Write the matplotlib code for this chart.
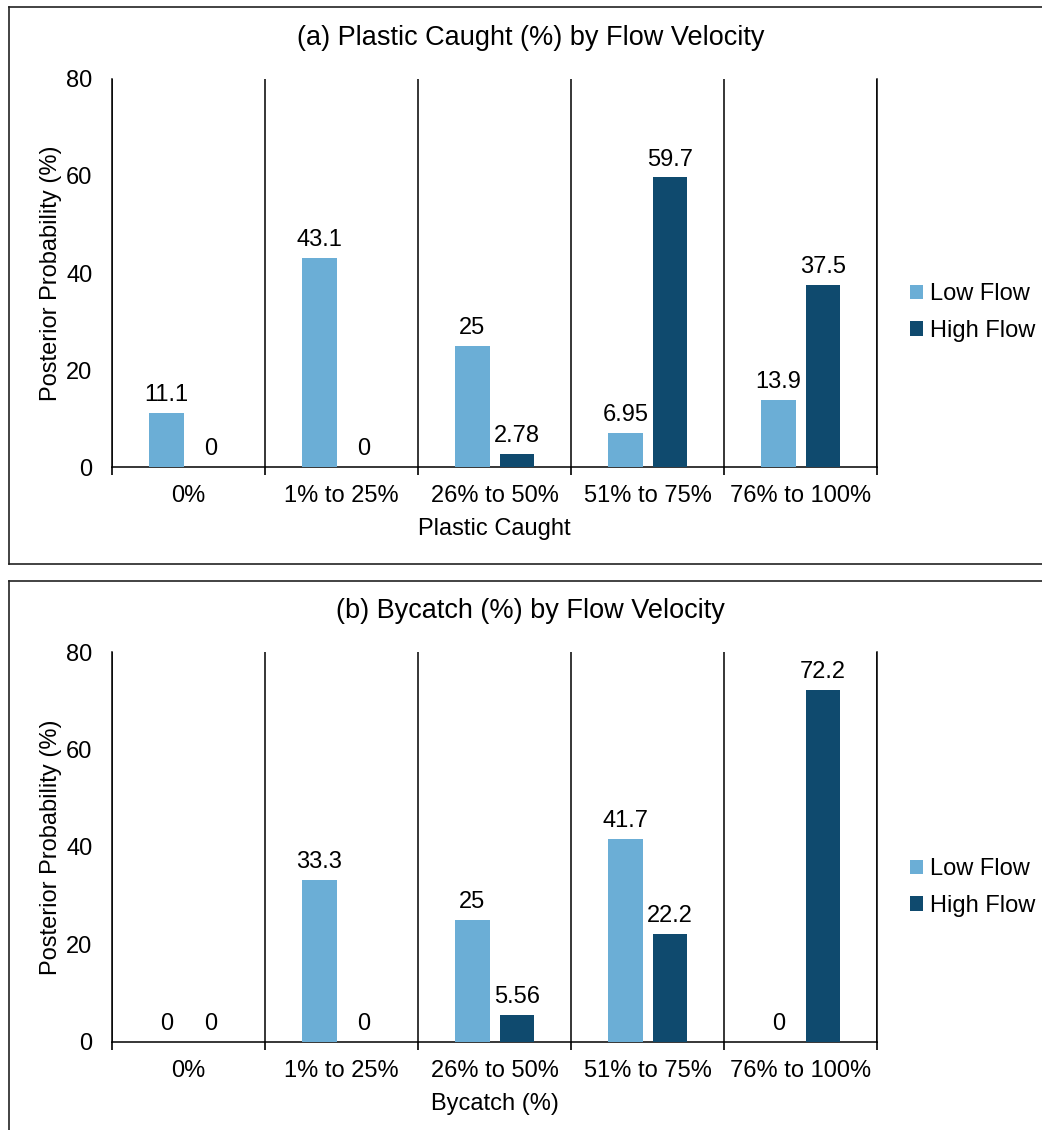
import matplotlib.pyplot as plt
import numpy as np
from matplotlib.lines import Line2D

plt.rcParams['font.family'] = ['Liberation Sans', 'DejaVu Sans']

# Categories and posterior probabilities (%)
categories = ['0%', '1% to 25%', '26% to 50%', '51% to 75%', '76% to 100%']
plastic_low = [11.1, 43.1, 25, 6.95, 13.9]
plastic_high = [0, 0, 2.78, 59.7, 37.5]
bycatch_low = [0, 33.3, 25, 41.7, 0]
bycatch_high = [0, 0, 5.56, 22.2, 72.2]

low_color = '#6BAED6'
high_color = '#0F4A6E'

fig = plt.figure(figsize=(10.42, 11.30), dpi=100)

ax_a = fig.add_axes([0.1075, 0.5867, 0.7342, 0.3434])
ax_b = fig.add_axes([0.1075, 0.0779, 0.7342, 0.3451])


def draw_panel(ax, low, high, title, xlabel, title_y, legend_y):
    x = np.arange(len(categories))
    off, w = 0.145, 0.225
    b1 = ax.bar(x - off, low, w, color=low_color, label='Low Flow', zorder=3)
    b2 = ax.bar(x + off, high, w, color=high_color, label='High Flow', zorder=3)
    ax.bar_label(b1, labels=[f'{v:g}' for v in low], padding=5, fontsize=17)
    ax.bar_label(b2, labels=[f'{v:g}' for v in high], padding=5, fontsize=17)

    ax.set_xlim(-0.5, len(categories) - 0.5)
    ax.set_ylim(0, 80)
    ax.set_yticks([0, 20, 40, 60, 80])
    ax.set_xticks(x)
    ax.set_xticklabels(categories)
    ax.set_xticks(np.arange(-0.5, len(categories)), minor=True)
    ax.tick_params(axis='x', which='major', length=0, pad=13, labelsize=17)
    ax.tick_params(axis='x', which='minor', length=6, width=1.2, direction='out')
    ax.tick_params(axis='y', length=0, pad=14, labelsize=17)
    ax.grid(axis='x', which='minor', color='black', linewidth=1.1, zorder=1)

    ax.spines['top'].set_visible(False)
    for s in ('left', 'right', 'bottom'):
        ax.spines[s].set_color('black')
        ax.spines[s].set_linewidth(1.1)

    ax.set_xlabel(xlabel, fontsize=17, labelpad=8)
    ax.set_ylabel('Posterior Probability (%)', fontsize=17, labelpad=3)

    fig.text(0.509, title_y, title, fontsize=19.5, ha='center', va='center')
    ax.legend(loc='center left', bbox_to_anchor=(0.873, legend_y),
              bbox_transform=fig.transFigure, frameon=False, fontsize=17,
              handlelength=0.55, handleheight=0.55, handletextpad=0.3,
              labelspacing=0.62, borderpad=0, borderaxespad=0)


draw_panel(ax_a, plastic_low, plastic_high,
           '(a) Plastic Caught (%) by Flow Velocity', 'Plastic Caught',
           0.9664, 0.7234)
draw_panel(ax_b, bycatch_low, bycatch_high,
           '(b) Bycatch (%) by Flow Velocity', 'Bycatch (%)',
           0.4593, 0.2146)

# Panel frames
left = 9 / 1042
for top, bottom in ((1 - 7 / 1130, 1 - 564 / 1130), (1 - 581 / 1130, -0.05)):
    fig.add_artist(Line2D([left, 1.05], [top, top], color='#222222', lw=1.2,
                          transform=fig.transFigure))
    fig.add_artist(Line2D([left, left], [top, bottom], color='#222222', lw=1.2,
                          transform=fig.transFigure))
    if bottom > 0:
        fig.add_artist(Line2D([left, 1.05], [bottom, bottom], color='#222222',
                              lw=1.2, transform=fig.transFigure))

fig.savefig('out.png', dpi=100)
